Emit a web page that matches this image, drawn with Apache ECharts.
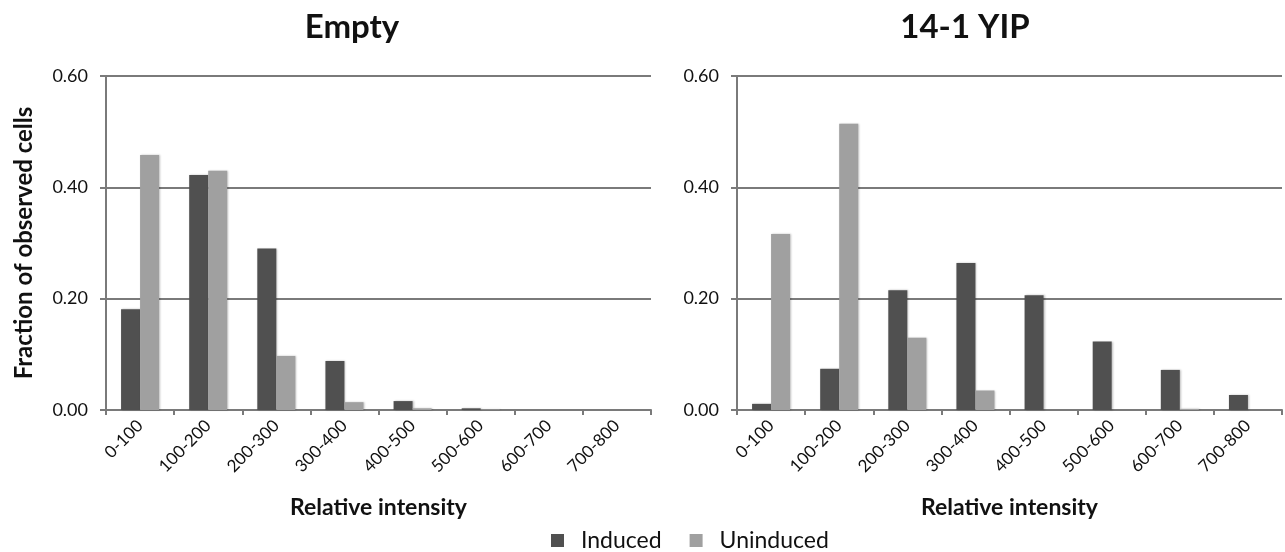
<!DOCTYPE html>
<html>
<head>
<meta charset="utf-8">
<script src="https://cdn.jsdelivr.net/npm/echarts@6/dist/echarts.min.js"></script>
<style>
html,body{margin:0;padding:0;background:#fff;}
#c{width:1285px;height:552px;}
</style>
</head>
<body>
<div id="c"></div>
<script>
const categories = ['0-100','100-200','200-300','300-400','400-500','500-600','600-700','700-800'];
const panelTitles = ['Empty', '14-1 YIP'];
const seriesNames = ['Induced', 'Uninduced'];
const emptyInduced   = [0.181, 0.422, 0.290, 0.088, 0.016, 0.003, 0.000, 0.000];
const emptyUninduced = [0.458, 0.430, 0.097, 0.014, 0.003, 0.001, 0.000, 0.000];
const yipInduced     = [0.011, 0.074, 0.215, 0.264, 0.206, 0.123, 0.072, 0.027];
const yipUninduced   = [0.316, 0.514, 0.130, 0.035, 0.000, 0.000, 0.002, 0.000];
const yTicks = { min: 0, max: 0.6, interval: 0.2 };
const xName = 'Relative intensity';
const yName = 'Fraction of observed cells';

const FONT = 'Lato, "Open Sans", sans-serif';
const LINE = '#7a7a7a';
const colors = ['#505050', '#a0a0a0'];

const chart = echarts.init(document.getElementById('c'), null, {renderer: 'canvas'});

function xAxis(i) {
  return {
    type: 'category', gridIndex: i, data: categories,
    boundaryGap: true,
    axisLine: {show: true, lineStyle: {color: LINE, width: 2}},
    axisTick: {show: true, length: 5, lineStyle: {color: LINE, width: 2}},
    axisLabel: {rotate: 45, fontSize: 17, color: '#111', fontFamily: FONT, margin: 13, interval: 0},
    name: xName, nameLocation: 'middle', nameGap: 86,
    nameTextStyle: {fontSize: 23, fontWeight: 'bold', color: '#111', fontFamily: FONT}
  };
}
function yAxis(i) {
  const a = {
    type: 'value', gridIndex: i, min: yTicks.min, max: yTicks.max, interval: yTicks.interval,
    axisLine: {show: true, lineStyle: {color: LINE, width: 2}},
    axisTick: {show: true, length: 6, lineStyle: {color: LINE, width: 2}},
    axisLabel: {fontSize: 18, color: '#111', fontFamily: FONT, margin: 18,
      formatter: v => v.toFixed(2)},
    splitLine: {show: true, lineStyle: {color: LINE, width: 2}}
  };
  if (i === 0) {
    a.name = yName; a.nameLocation = 'middle'; a.nameGap = 70; a.nameRotate = 90;
    a.nameTextStyle = {fontSize: 24, fontWeight: 'bold', color: '#111', fontFamily: FONT};
  }
  return a;
}
function bar(name, data, i, ci) {
  return {
    type: 'bar', name: name, data: data, xAxisIndex: i, yAxisIndex: i,
    barWidth: 19, barGap: '0%',
    itemStyle: {color: colors[ci], shadowColor: 'rgba(0,0,0,0.25)', shadowBlur: 2, shadowOffsetX: 1, shadowOffsetY: 0},
    emphasis: {disabled: true}
  };
}

chart.setOption({
  animation: false,
  backgroundColor: '#fff',
  grid: [
    {left: 106, top: 76, width: 545, height: 334},
    {left: 737, top: 76, width: 545, height: 334}
  ],
  xAxis: [xAxis(0), xAxis(1)],
  yAxis: [yAxis(0), yAxis(1)],
  legend: {
    data: seriesNames, top: 524, left: 546,
    itemWidth: 13, itemHeight: 13, itemGap: 28,
    icon: 'rect',
    textStyle: {fontSize: 23, color: '#111', fontFamily: FONT, padding: [0, 0, 0, 12]}
  },
  graphic: [
    {type: 'text', x: 352, y: 27, style: {text: panelTitles[0], align: 'center', verticalAlign: 'middle',
      font: 'bold 33px ' + FONT, fill: '#111'}},
    {type: 'text', x: 965, y: 27, style: {text: panelTitles[1], align: 'center', verticalAlign: 'middle',
      font: 'bold 33px ' + FONT, fill: '#111'}}
  ],
  series: [
    bar(seriesNames[0], emptyInduced, 0, 0),
    bar(seriesNames[1], emptyUninduced, 0, 1),
    bar(seriesNames[0], yipInduced, 1, 0),
    bar(seriesNames[1], yipUninduced, 1, 1)
  ]
});
</script>
</body>
</html>
